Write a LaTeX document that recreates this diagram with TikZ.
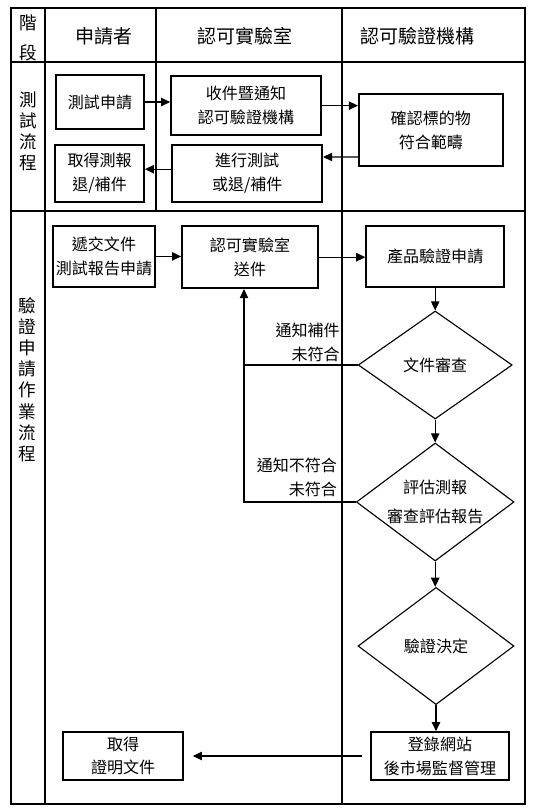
\documentclass[tikz,border=0pt]{standalone}
\usepackage{fontspec}
\usepackage{tikz}
\usetikzlibrary{shapes.geometric,arrows.meta}
\newfontfamily\zhfont{Noto Sans CJK TC}
\newcommand{\zhbox}{\zhfont\fontsize{11.4}{17}\selectfont}
\newcommand{\zhhead}{\zhfont\fontsize{13.5}{16}\selectfont}
\newcommand{\zhstage}{\zhfont\fontsize{12.5}{15}\selectfont}

\begin{document}
\begin{tikzpicture}
        % Define styles
        \tikzset{
            frame/.style={line width=1.4pt},
            box/.style={rectangle, draw, line width=1.2pt, align=center, inner sep=2pt, font=\zhbox},
            decision/.style={diamond, draw, line width=0.8pt, aspect=1.4, inner sep=0pt, align=center, font=\zhbox},
            head/.style={align=center, font=\zhhead},
            stage/.style={align=center, font=\zhstage},
            note/.style={align=right, inner sep=0pt, font=\zhbox},
            link/.style={line width=0.8pt},
            arrow/.style={->, >={Triangle[length=6.5pt,width=6pt]}, line width=0.8pt}
        }
        \useasboundingbox (0,0) rectangle (13.6,-20.2);

        % Table
        \draw[frame] (0.28,-0.19) rectangle (13.12,-20.09);
        \draw[frame] (1.12,-0.19) -- (1.12,-20.09);
        \draw[frame] (3.91,-0.19) -- (3.91,-5.27);
        \draw[frame] (8.55,-0.19) -- (8.55,-20.09);
        \draw[frame] (0.28,-1.54) -- (13.12,-1.54);
        \draw[frame] (0.28,-5.27) -- (13.12,-5.27);

        % Headers
        \node[stage] (head_stage) at (0.7,-0.95) {階\\[6pt]段};
        \node[head] (head_applicant) at (2.6,-0.9) {申請者};
        \node[head] (head_lab) at (6.13,-0.9) {認可實驗室};
        \node[head] (head_agency) at (10.43,-0.9) {認可驗證機構};

        % Test stage
        \node[stage] (stage_test) at (0.7,-3.29) {測\\試\\流\\程};
        \node[box, minimum width=2.2cm, minimum height=1.35cm] (test_apply) at (2.5,-2.55) {測試申請};
        \node[box, minimum width=2.22cm, minimum height=1.43cm] (test_report) at (2.49,-4.34) {取得測報\\退/補件};
        \node[box, minimum width=3.75cm, minimum height=1.48cm] (test_notify) at (6.15,-2.64) {收件暨通知\\認可驗證機構};
        \node[box, minimum width=3.75cm, minimum height=1.43cm] (test_run) at (6.18,-4.34) {進行測試\\或退/補件};
        \node[box, minimum width=3.6cm, minimum height=1.8cm] (test_confirm) at (10.77,-3.25) {確認標的物\\符合範疇};

        \draw[arrow] (test_apply.east) -- (test_apply.east -| test_notify.west);
        \draw[arrow] (test_notify.east) -- (test_notify.east -| test_confirm.west);
        \draw[arrow] ([yshift=-0.675cm]test_confirm.west) -- ([yshift=0.415cm]test_run.east);
        \draw[arrow] ([yshift=0.11cm]test_run.west) -- ([yshift=0.11cm]test_report.east);

        % Certification stage
        \node[stage] (stage_cert) at (0.68,-9.49) {驗\\證\\申\\請\\作\\業\\流\\程};
        \node[box, minimum width=2.55cm, minimum height=1.53cm] (cert_submit) at (2.6,-6.41) {遞交文件\\測試報告申請};
        \node[box, minimum width=3.4cm, minimum height=1.55cm] (cert_send) at (6.25,-6.43) {認可實驗室\\送件};
        \node[box, minimum width=3.45cm, minimum height=1.53cm] (cert_product) at (10.88,-6.41) {產品驗證申請};
        \node[decision, minimum width=3.85cm, minimum height=2.7cm] (cert_doc) at (10.88,-9.125) {文件審查};
        \node[decision, minimum width=3.85cm, minimum height=2.95cm] (cert_eval) at (10.88,-12.55) {評估測報\\[3.6pt]審查評估報告};
        \node[decision, minimum width=3.9cm, minimum height=2.93cm] (cert_decide) at (10.9,-16.15) {驗證決定};
        \node[box, minimum width=3.45cm, minimum height=1.2cm] (cert_register) at (11.0,-18.9) {登錄網站\\後市場監督管理};
        \node[box, minimum width=3.0cm, minimum height=1.2cm] (cert_obtain) at (3.08,-18.9) {取得\\證明文件};

        \draw[arrow] (cert_submit.east) -- (cert_submit.east -| cert_send.west);
        \draw[arrow] (cert_send.east) -- (cert_send.east -| cert_product.west);
        \draw[arrow] (cert_product.south) -- (cert_doc.north);
        \draw[arrow] (cert_doc.south) -- (cert_eval.north);
        \draw[arrow] (cert_eval.south) -- (cert_eval.south |- cert_decide.north);
        \draw[arrow] (cert_decide.south) -- (cert_decide.south |- cert_register.north);
        \draw[arrow, shorten <=0.2cm, shorten >=0.22cm] (cert_register.west) -- (cert_obtain.east);

        % Feedback to the lab
        \coordinate (loop_x) at ([xshift=-0.15cm]cert_send.south);
        \draw[arrow] (cert_eval.west) -| (loop_x);
        \draw[link] (cert_doc.west) -- (cert_doc.west -| loop_x);
        \node[note, anchor=south east] (note_missing) at (8.5,-9.05) {通知補件\\未符合};
        \node[note, anchor=south east] (note_reject) at (8.43,-12.43) {通知不符合\\未符合};
\end{tikzpicture}
\end{document}
